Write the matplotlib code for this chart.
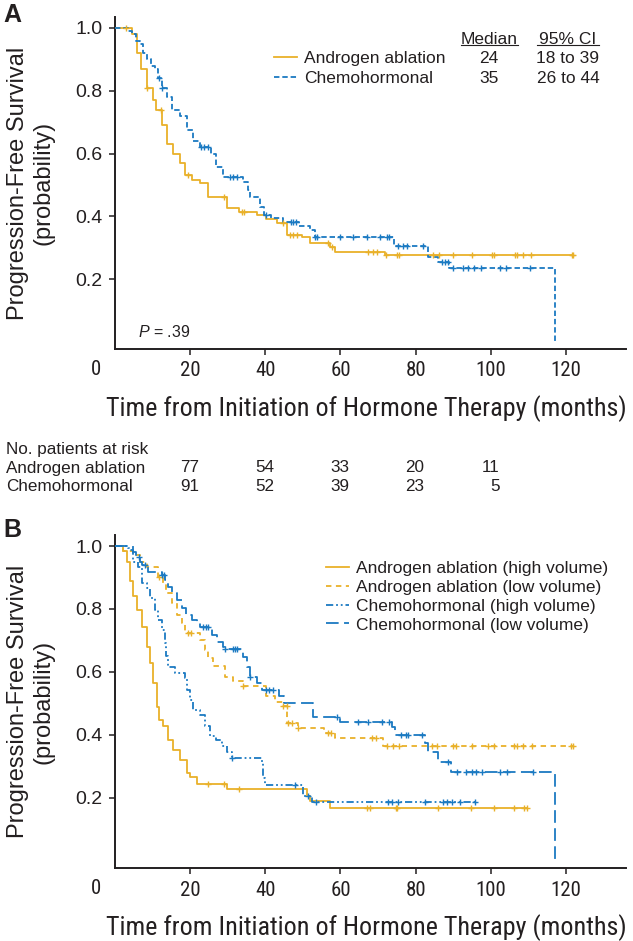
import numpy as np
import matplotlib
matplotlib.use("Agg")
import matplotlib.pyplot as plt
from matplotlib import font_manager
from matplotlib.font_manager import FontProperties
from matplotlib.lines import Line2D

plt.rcParams['font.family'] = ['Liberation Sans', 'DejaVu Sans']
plt.rcParams['mathtext.fontset'] = 'custom'
plt.rcParams['mathtext.rm'] = 'Liberation Sans'
plt.rcParams['mathtext.it'] = 'Liberation Sans:italic'

# look for an upright condensed sans face; fall back to Liberation Sans
narrow_file = None
cands = [f for f in font_manager.fontManager.ttflist
         if f.style == 'normal' and str(f.stretch) in ('condensed', 'semi-condensed', 'extra-condensed')
         and f.weight in (400, 'normal', 'regular', 'book')
         and 'italic' not in f.fname.lower() and 'mono' not in f.name.lower()]
for fam in ['Liberation Sans Narrow', 'Roboto Condensed', 'Roboto', 'Noto Sans', 'Open Sans', 'Lato', 'DejaVu Sans']:
    hit = [f for f in cands if f.name.startswith(fam)]
    if hit:
        narrow_file = hit[0].fname
        break
if narrow_file is None and cands:
    narrow_file = cands[0].fname


def narrow(size):
    if narrow_file:
        return FontProperties(fname=narrow_file, size=size)
    return FontProperties(family='Liberation Sans', size=size)


XTICK_SIZE = 15 if narrow_file else 13.5

YEL = '#E9B12A'
BLU = '#1B7AC2'
INK = '#231F20'

# ---- panel A data (months, survival probability) ----
a_aa_t = [0, 4.5, 5.8, 7, 8.5, 10, 11, 12.5, 13.8, 15.5, 17.3, 18.6, 20.5, 22.6, 24.8, 29.8,
          33, 37.8, 40.2, 43, 45.7, 49.7, 51.9, 57.2, 58.5, 71.8]
a_aa_s = [1, 0.98, 0.92, 0.87, 0.81, 0.77, 0.74, 0.69, 0.63, 0.60, 0.57, 0.53, 0.515, 0.505, 0.46, 0.426,
          0.414, 0.404, 0.39, 0.38, 0.34, 0.333, 0.316, 0.302, 0.286, 0.275]
a_aa_end = 122
a_aa_cens = [3, 8.6, 12.2, 19.5, 29, 33.7, 34.2, 44.7, 46.5, 47.4, 48.4, 56.7, 57.7, 67.3, 68.6, 69.7,
             72, 75, 75.7, 84.6, 86.2, 90, 94.9, 100.3, 101, 106.4, 106.9, 108.5, 110.6, 121.5, 122]

a_ch_t = [0, 3.5, 4.4, 5.5, 6.6, 7.5, 8.4, 9.5, 10.6, 11.5, 12.4, 13.8, 15.1, 17.3, 19.1, 20.8, 22.5,
          25.5, 27, 28.8, 34, 35.4, 35.9, 38.6, 39.6, 41.5, 44.7, 49, 51.9, 53.2, 74.3, 83.2, 86, 89, 117]
a_ch_s = [1, 0.99, 0.98, 0.96, 0.95, 0.92, 0.90, 0.88, 0.87, 0.84, 0.81, 0.78, 0.74, 0.72, 0.675, 0.64, 0.62,
          0.60, 0.557, 0.525, 0.51, 0.485, 0.46, 0.43, 0.404, 0.394, 0.382, 0.37, 0.356, 0.334, 0.306, 0.27,
          0.254, 0.235, 0.0]
a_ch_end = 117
a_ch_cens = [11.8, 12.4, 22.8, 23.6, 24.7, 30.6, 31.5, 32.4, 40.3, 46.8, 47.5, 48.1, 53.2, 53.7, 59.8,
             63.3, 67, 70.5, 72.3, 72.8, 75.3, 76.6, 77.7, 82, 87, 87.8, 88.6, 90, 92.5, 94, 95.5, 97.3,
             102.4, 104, 110.4]

a_median = ['24', '35']
a_ci = ['18 to 39', '26 to 44']
a_labels = ['Androgen ablation', 'Chemohormonal']
p_value = '.39'

risk_times = [20, 40, 60, 80, 100]
risk_aa = [77, 54, 33, 20, 11]
risk_ch = [91, 52, 39, 23, 5]

# ---- panel B data ----
b_aah_t = [0, 2.2, 3.1, 4.0, 4.9, 5.8, 7.1, 8.4, 9.3, 10.2, 11.1, 11.8, 12.8, 14.2, 15.5, 17.3, 19.1,
           20, 21.7, 29.7, 51, 52, 57.2]
b_aah_s = [1, 0.985, 0.95, 0.89, 0.84, 0.797, 0.744, 0.68, 0.628, 0.564, 0.49, 0.448, 0.427, 0.384,
           0.353, 0.321, 0.278, 0.265, 0.244, 0.228, 0.205, 0.19, 0.167]
b_aah_end = 109.6
b_aah_cens = [24.8, 29, 33.1, 67, 67.8, 74.7, 75.1, 85.9, 94.7, 100.8, 106.1, 108.8, 109.6]

b_aal_t = [0, 2.2, 4.9, 6.6, 8.4, 11.5, 12.8, 13.7, 15.1, 16.4, 17.7, 18.6, 22.6, 23.9, 24.8, 26.2,
           29.3, 31.5, 34.1, 40.3, 42.6, 44.8, 45.8, 48.8, 55.5, 58.5, 71.4]
b_aal_s = [1, 0.985, 0.972, 0.95, 0.934, 0.903, 0.882, 0.85, 0.818, 0.781, 0.755, 0.725, 0.702, 0.67,
           0.643, 0.62, 0.585, 0.57, 0.556, 0.522, 0.506, 0.492, 0.437, 0.421, 0.406, 0.39, 0.365]
b_aal_end = 122
b_aal_cens = [11.8, 19.3, 20.2, 34.1, 44.8, 45.7, 46.1, 47, 48.8, 56.7, 57.6, 68.3, 69.4, 72.3, 74,
              75.5, 84.3, 85.6, 90, 90.7, 94.9, 99.2, 101, 106.1, 106.9, 108.5, 110.9, 121.3, 121.8]

b_chh_t = [0, 3.5, 4.0, 4.9, 6.2, 7.1, 8.4, 9.3, 10.6, 11.5, 12.4, 13.3, 13.7, 14.2, 16, 18.6, 19.2,
           19.9, 20.8, 22.6, 23.9, 25.3, 27, 28.4, 29.7, 31.1, 39, 39.4, 39.9, 50.1, 52.3]
b_chh_s = [1, 0.995, 0.987, 0.95, 0.934, 0.882, 0.866, 0.834, 0.797, 0.765, 0.733, 0.691, 0.649, 0.617,
           0.596, 0.58, 0.543, 0.511, 0.479, 0.463, 0.427, 0.397, 0.384, 0.365, 0.347, 0.326, 0.31,
           0.262, 0.241, 0.205, 0.187]
b_chh_end = 96
b_chh_cens = [31.1, 47.9, 51.4, 53.6, 72.6, 73.7, 75.3, 82.4, 87.2, 88.3, 89.6, 91.8, 95.7]

b_chl_t = [0, 4.9, 5.5, 6.6, 7.1, 8.9, 12.4, 13.3, 14.2, 15.1, 16.4, 17.7, 19, 20.4, 21.7, 22.6, 25.7,
           27.1, 28.8, 29.3, 34.1, 35, 35.9, 37.7, 39, 43.6, 45, 52.7, 60, 73.6, 74.5, 82.4, 83.3,
           85.9, 89.3, 117]
b_chl_s = [1, 0.98, 0.964, 0.95, 0.94, 0.918, 0.907, 0.892, 0.871, 0.85, 0.829, 0.802, 0.781, 0.765,
           0.755, 0.744, 0.717, 0.696, 0.68, 0.672, 0.648, 0.617, 0.585, 0.564, 0.543, 0.522, 0.501,
           0.457, 0.442, 0.426, 0.40, 0.374, 0.347, 0.315, 0.281, 0.0]
b_chl_end = 117
b_chl_cens = [6.5, 8, 12.4, 13, 23.5, 24.1, 24.8, 29.3, 31.5, 32, 32.4, 35.9, 40.3, 41, 42.1, 59,
              64.7, 67.4, 71, 72.8, 76.2, 77.5, 78, 81.6, 88.6, 90.9, 93.4, 94.9, 96.2, 97.8, 102.4,
              104.2, 111.3]

b_labels = ['Androgen ablation (high volume)', 'Androgen ablation (low volume)',
            'Chemohormonal (high volume)', 'Chemohormonal (low volume)']

xlabel = 'Time from Initiation of Hormone Therapy (months)'
xticks = [20, 40, 60, 80, 100, 120]
yticks = [0.2, 0.4, 0.6, 0.8, 1.0]

W, H = 633, 941
fig = plt.figure(figsize=(W / 100, H / 100), dpi=100)
ax_a = fig.add_axes([115 / W, 1 - 349 / H, 511 / W, 332 / H])
ax_b = fig.add_axes([115 / W, 1 - 868 / H, 511 / W, 333 / H])

LW = 1.3
STY = {
    'a_aa': dict(color=YEL, ls='-'),
    'a_ch': dict(color=BLU, ls=(0, (3, 1.6))),
    'b_aah': dict(color=YEL, ls='-'),
    'b_aal': dict(color=YEL, ls=(0, (3, 2.5))),
    'b_chh': dict(color=BLU, ls=(0, (4, 1.6, 1, 1.6, 1, 1.6))),
    'b_chl': dict(color=BLU, ls=(0, (7, 3))),
}


def km(ax, t, s, t_end, cens, sty):
    x = list(t) + [t_end]
    y = list(s) + [s[-1]]
    ax.step(x, y, where='post', color=sty['color'], ls=sty['ls'], lw=LW, zorder=3)
    tt = np.array(t)
    ss = np.array(s)
    idx = np.searchsorted(tt, cens, side='right') - 1
    ax.plot(cens, ss[idx], ls='none', marker='+', ms=5, mew=1.0, color=sty['color'], zorder=4)


def style(ax):
    ax.set_xlim(0, 136)
    ax.set_ylim(-0.023, 1.035)
    for sp in ['top', 'right']:
        ax.spines[sp].set_visible(False)
    for sp in ['left', 'bottom']:
        ax.spines[sp].set_linewidth(1.4)
        ax.spines[sp].set_color(INK)
    ax.set_xticks(xticks)
    ax.set_xticklabels([str(v) for v in xticks], fontproperties=narrow(XTICK_SIZE), color=INK)
    ax.set_yticks(yticks)
    ax.set_yticklabels([f'{v:.1f}' for v in yticks], fontsize=14, color=INK)
    ax.tick_params(axis='x', length=4, width=1.1, pad=5, colors=INK)
    ax.tick_params(axis='y', length=4, width=1.1, pad=5, colors=INK)
    ax.annotate('0', xy=(0, 0), xycoords=('data', 'axes fraction'), xytext=(-19, -21),
                textcoords='offset pixels', ha='center', va='center',
                fontproperties=narrow(XTICK_SIZE), color=INK)
    ax.set_facecolor('none')


km(ax_a, a_aa_t, a_aa_s, a_aa_end, a_aa_cens, STY['a_aa'])
km(ax_a, a_ch_t, a_ch_s, a_ch_end, a_ch_cens, STY['a_ch'])
km(ax_b, b_aah_t, b_aah_s, b_aah_end, b_aah_cens, STY['b_aah'])
km(ax_b, b_aal_t, b_aal_s, b_aal_end, b_aal_cens, STY['b_aal'])
km(ax_b, b_chh_t, b_chh_s, b_chh_end, b_chh_cens, STY['b_chh'])
km(ax_b, b_chl_t, b_chl_s, b_chl_end, b_chl_cens, STY['b_chl'])
style(ax_a)
style(ax_b)

ax_a.text(6, 0.03, r'$P$ = ' + p_value, va='center', ha='left', fontsize=11.5, color=INK)

# x axis titles: size chosen so the title spans the width seen in the reference (~521 px)
fig.canvas.draw()
rend = fig.canvas.get_renderer()
probe = fig.text(0, 0, xlabel, fontproperties=narrow(20))
wpx = probe.get_window_extent(rend).width
probe.remove()
xlab_size = min(24, 20 * 521 / wpx)
for ax in (ax_a, ax_b):
    bb = ax.get_position()
    fig.text(366 / W, bb.y0 - 60 / H, xlabel, ha='center', va='center',
             fontproperties=narrow(xlab_size), color=INK)

# y labels and panel letters
for ax in (ax_a, ax_b):
    bb = ax.get_position()
    fig.text(31 / W, (bb.y0 + bb.y1) / 2, 'Progression-Free Survival\n(probability)', rotation=90,
             ha='center', va='center', multialignment='center', fontsize=17, linespacing=1.2, color=INK)
fig.text(3 / W, 1 - 3 / H, 'A', ha='left', va='top', fontsize=18, fontweight='bold', color=INK)
fig.text(3 / W, 1 - 518 / H, 'B', ha='left', va='top', fontsize=18, fontweight='bold', color=INK)


# legends
def handle(key):
    return Line2D([], [], color=STY[key]['color'], ls=STY[key]['ls'], lw=LW)


leg_a = ax_a.legend([handle('a_aa'), handle('a_ch')], a_labels, loc='upper left',
                    bbox_to_anchor=(274 / W, 1 - 51 / H), bbox_transform=fig.transFigure,
                    frameon=False, borderpad=0, borderaxespad=0, handlelength=1.3,
                    handletextpad=0.45, labelspacing=0.28, fontsize=12.5)
for t in leg_a.get_texts():
    t.set_color(INK)

leg_b = ax_b.legend([handle('b_aah'), handle('b_aal'), handle('b_chh'), handle('b_chl')], b_labels,
                    loc='upper left', bbox_to_anchor=(326 / W, 1 - 561 / H),
                    bbox_transform=fig.transFigure, frameon=False, borderpad=0, borderaxespad=0,
                    handlelength=1.3, handletextpad=0.4, labelspacing=0.21, fontsize=12.5)
for t in leg_b.get_texts():
    t.set_color(INK)

fig.canvas.draw()
rows_y = []
for t in leg_a.get_texts():
    e = t.get_window_extent(rend)
    rows_y.append((e.y0 + e.y1) / 2 / H)

col_x = [489 / W, 568 / W]
head_y = rows_y[0] + 19 / H
heads = []
for x, txt in zip(col_x, ['Median', '95% CI']):
    heads.append(fig.text(x, head_y, txt, ha='center', va='center', fontsize=12.5, color=INK))
for y, m, ci in zip(rows_y, a_median, a_ci):
    fig.text(col_x[0], y, m, ha='center', va='center', fontsize=12.5, color=INK)
    fig.text(col_x[1], y, ci, ha='center', va='center', fontsize=12.5, color=INK)
fig.canvas.draw()
for i, h in enumerate(heads):
    e = h.get_window_extent(rend)
    pad = 2 if i == 1 else 0
    yy = (e.y0 + 2) / H
    fig.add_artist(Line2D([(e.x0 - pad) / W, (e.x1 + pad) / W], [yy, yy], color=INK, lw=0.8))

# risk table
fig.text(6 / W, 1 - 449 / H, 'No. patients at risk', ha='left', va='center', fontsize=12.3, color=INK)
for yp, lab, vals in [(468, a_labels[0], risk_aa), (486, a_labels[1], risk_ch)]:
    fig.text(6 / W, 1 - yp / H, lab, ha='left', va='center', fontsize=12.3, color=INK)
    for tx, v in zip(risk_times, vals):
        ax_a.annotate(str(v), xy=(tx, 1 - yp / H), xycoords=(ax_a.transData, fig.transFigure),
                      xytext=(9, 0), textcoords='offset pixels', ha='right', va='center',
                      fontsize=12.3, color=INK, annotation_clip=False)

fig.savefig('out.png', dpi=100)
